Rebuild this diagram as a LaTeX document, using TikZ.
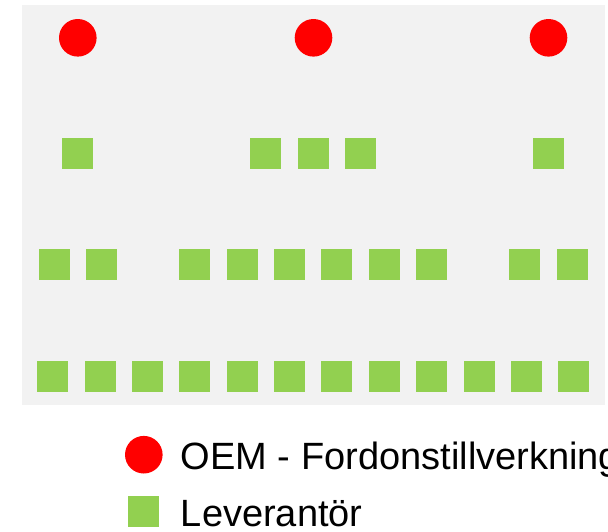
\documentclass[tikz,border=0pt]{standalone}
\usepackage{fontspec}
\setmainfont{Liberation Sans}
\usepackage{xcolor}
\usepackage{tikz}
\definecolor{oemred}{RGB}{255,0,0}
\definecolor{levgreen}{RGB}{146,208,80}
\definecolor{bggray}{RGB}{242,242,242}

\begin{document}
\begin{tikzpicture}[x=0.5pt, y=-0.5pt]
	\tikzstyle{oem}=[circle,fill=oemred,draw=none,inner sep=0pt,minimum size=18.8pt]
	\tikzstyle{lev}=[rectangle,fill=levgreen,draw=none,inner sep=0pt,minimum size=15.5pt]
	\tikzstyle{legend}=[anchor=base west,inner sep=0pt,text=black,font=\fontsize{19}{23}\selectfont]
	\useasboundingbox (0,0) rectangle (608,531);
	\fill[bggray] (22,5) rectangle (605,405);

	% OEM
	\node[oem] (O1) at (77.8,37.8)  {};
	\node[oem] (O2) at (313.5,37.8) {};
	\node[oem] (O3) at (548.5,37.8) {};

	% leverantorer, rad 1
	\node[lev] (A1) at (77.5,153.5)  {};
	\node[lev] (A2) at (265.5,153.5) {};
	\node[lev] (A3) at (313.5,153.5) {};
	\node[lev] (A4) at (360.5,153.5) {};
	\node[lev] (A5) at (548.5,153.5) {};

	% rad 2
	\node[lev] (B1)  at (54.5,264.5)  {};
	\node[lev] (B2)  at (101.5,264.5) {};
	\node[lev] (B3)  at (194.5,264.5) {};
	\node[lev] (B4)  at (242.5,264.5) {};
	\node[lev] (B5)  at (289.5,264.5) {};
	\node[lev] (B6)  at (336.5,264.5) {};
	\node[lev] (B7)  at (384.5,264.5) {};
	\node[lev] (B8)  at (431.5,264.5) {};
	\node[lev] (B9)  at (524.5,264.5) {};
	\node[lev] (B10) at (572.5,264.5) {};

	% rad 3
	\node[lev] (C1)  at (52.5,376.5)  {};
	\node[lev] (C2)  at (100,376.5)   {};
	\node[lev] (C3)  at (147.5,376.5) {};
	\node[lev] (C4)  at (194.5,376.5) {};
	\node[lev] (C5)  at (242,376.5)   {};
	\node[lev] (C6)  at (289.5,376.5) {};
	\node[lev] (C7)  at (336.5,376.5) {};
	\node[lev] (C8)  at (384,376.5)   {};
	\node[lev] (C9)  at (431.5,376.5) {};
	\node[lev] (C10) at (479,376.5)   {};
	\node[lev] (C11) at (526,376.5)   {};
	\node[lev] (C12) at (573.5,376.5) {};

	% legend
	\node[oem] (KO) at (143.8,454.7) {};
	\node[lev] (KL) at (143.5,511.5) {};
	\node[legend] (TO) at (180.5,469.5) {OEM - Fordonstillverkning};
	\node[legend] (TL) at (180.5,526) {Leverantör};
\end{tikzpicture}
\end{document}
